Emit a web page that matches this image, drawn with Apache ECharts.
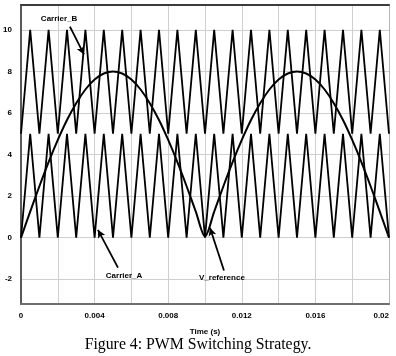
<!DOCTYPE html>
<html><head><meta charset="utf-8">
<script src="https://cdn.jsdelivr.net/npm/echarts@6/dist/echarts.min.js"></script>
<style>html,body{margin:0;padding:0;background:#fff}#c{width:396px;height:356px}</style>
</head><body><div id="c"></div>
<script>
var time = [0,0.0005,0.001,0.0015,0.002,0.0025,0.003,0.0035,0.004,0.0045,0.005,0.0055,0.006,0.0065,0.007,0.0075,0.008,0.0085,0.009,0.0095,0.01,
            0.0105,0.011,0.0115,0.012,0.0125,0.013,0.0135,0.014,0.0145,0.015,0.0155,0.016,0.0165,0.017,0.0175,0.018,0.0185,0.019,0.0195,0.02];
var carrierA = [0,5,0,5,0,5,0,5,0,5,0,5,0,5,0,5,0,5,0,5,0,5,0,5,0,5,0,5,0,5,0,5,0,5,0,5,0,5,0,5,0];
var carrierB = [5,10,5,10,5,10,5,10,5,10,5,10,5,10,5,10,5,10,5,10,5,10,5,10,5,10,5,10,5,10,5,10,5,10,5,10,5,10,5,10,5];
var vReference = [0,1.25,2.47,3.63,4.7,5.66,6.47,7.13,7.61,7.9,8.0,7.9,7.61,7.13,6.47,5.66,4.7,3.63,2.47,1.25,0.05,
                  1.25,2.47,3.63,4.7,5.66,6.47,7.13,7.61,7.9,8.0,7.9,7.61,7.13,6.47,5.66,4.7,3.63,2.47,1.25,0];
var yTicks = [-2,0,2,4,6,8,10];
var xTickLabels = [0,0.004,0.008,0.012,0.016,0.02];
var labelNames = ['Carrier_B','Carrier_A','V_reference'];
var labelPos = [[0.00207,10.55],[0.0056,-1.84],[0.01092,-1.93]];
var arrowFrom = [[0.00266,10.16],[0.00527,-1.45],[0.01103,-1.59]];
var arrowTo = [[0.00342,8.82],[0.00418,0.37],[0.01027,0.47]];
var caption = 'Figure 4: PWM Switching Strategy.';

function pairs(ys){ return time.map(function(t,i){return [t, ys[i]];}); }
var tickFont = {fontFamily:'"Liberation Sans Narrow","Liberation Sans",Arial,sans-serif', fontWeight:'bold', fontSize:8, color:'#000'};

var chart = echarts.init(document.getElementById('c'), null, {renderer:'canvas'});
chart.setOption({
  backgroundColor:'#fff',
  animation:false,
  grid:{left:21, top:5, width:368, height:299, containLabel:false, outerBoundsMode:'none'},
  xAxis:[{
    type:'value', min:0, max:0.02, interval:0.002,
    axisLine:{show:true, onZero:false, lineStyle:{color:'#6e6e6e', width:2}},
    axisTick:{show:false},
    axisLabel:Object.assign({margin:8, customValues:xTickLabels, alignMaxLabel:'right',
      formatter:function(v){return v===0?'0':String(+v.toFixed(3));}}, tickFont),
    splitLine:{show:true, lineStyle:{color:'#cfcfcf', width:1}},
    name:'Time (s)', nameLocation:'middle', nameGap:24,
    nameTextStyle:tickFont
  },{
    type:'value', min:0, max:0.02, position:'top',
    axisLine:{show:true, onZero:false, lineStyle:{color:'#3c3c3c', width:2}},
    axisTick:{show:false}, axisLabel:{show:false}, splitLine:{show:false}
  }],
  yAxis:[{
    type:'value', min:-3.2, max:11.2,
    axisLine:{show:true, onZero:false, lineStyle:{color:'#5a5a5a', width:2}},
    axisTick:{show:false},
    axisLabel:Object.assign({margin:9, customValues:yTicks}, tickFont),
    splitLine:{show:false}
  },{
    type:'value', min:-3.2, max:11.2, position:'right',
    axisLine:{show:true, onZero:false, lineStyle:{color:'#b4b4b4', width:1}},
    axisTick:{show:false}, axisLabel:{show:false}, splitLine:{show:false}
  }],
  series:[
    {type:'line', name:'Carrier_B', data:pairs(carrierB), showSymbol:false, symbol:'none',
     lineStyle:{color:'#000', width:1.8},
     markLine:{silent:true, symbol:'none', label:{show:false}, lineStyle:{color:'#cfcfcf', width:1, type:'solid'},
       data: yTicks.map(function(v){return {yAxis:v};}), z:0}
    },
    {type:'line', name:'Carrier_A', data:pairs(carrierA), showSymbol:false, symbol:'none',
     lineStyle:{color:'#000', width:1.8}},
    {type:'line', name:'V_reference', data:pairs(vReference), showSymbol:false, symbol:'none', smooth:0.3,
     lineStyle:{color:'#000', width:2},
     markLine:{silent:true, symbol:['none','arrow'], symbolSize:[6,8], label:{show:false},
       lineStyle:{color:'#000', width:1.8, type:'solid'},
       data: arrowFrom.map(function(p,i){return [{coord:p},{coord:arrowTo[i]}];})},
     markPoint:{silent:true, symbol:'circle', symbolSize:1, itemStyle:{color:'rgba(0,0,0,0)'},
       label:{show:true, position:'inside', formatter:function(p){return p.name;},
         fontFamily:'"Liberation Sans Narrow","Liberation Sans",Arial,sans-serif', fontWeight:'bold', fontSize:8, color:'#000'},
       data: labelPos.map(function(p,i){return {name:labelNames[i], coord:p};})}
    }
  ],
  graphic:[{type:'text', left:'center', top:337,
    style:{text:caption, font:'15.8px "Liberation Serif","Times New Roman",serif', fill:'#000'}}]
});
</script></body></html>
